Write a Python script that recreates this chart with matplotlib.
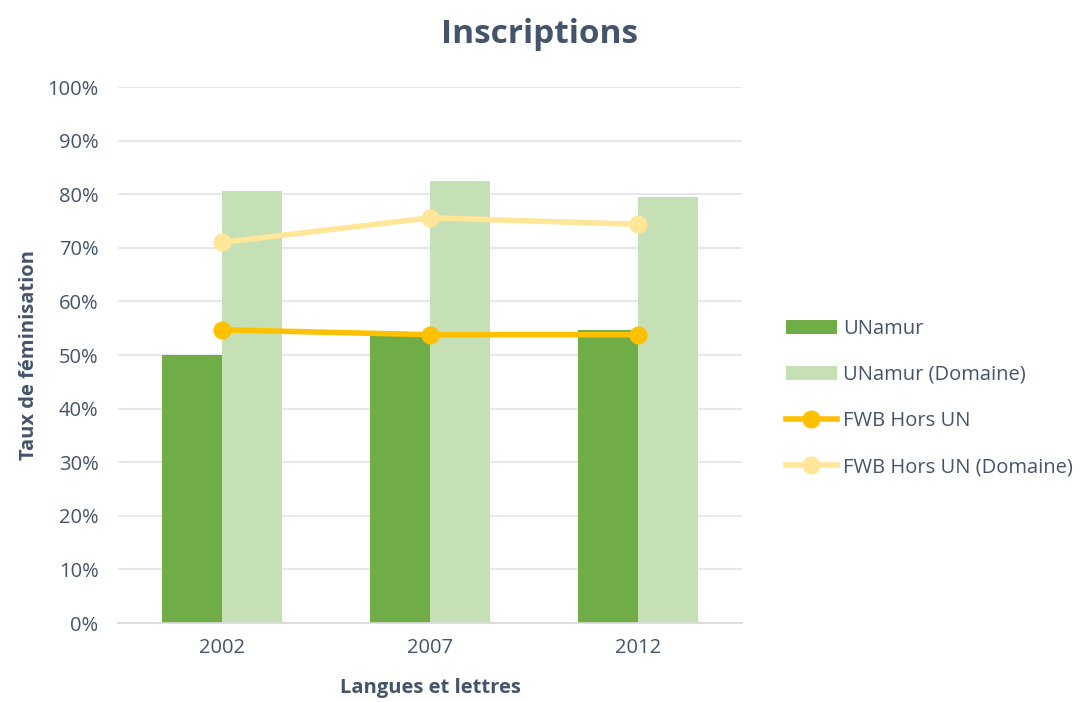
import numpy as np
import matplotlib
matplotlib.use("Agg")
import matplotlib.pyplot as plt
from matplotlib.ticker import PercentFormatter

plt.rcParams['font.family'] = ['Open Sans', 'DejaVu Sans']

# data
years = ['2002', '2007', '2012']
unamur = [50.1, 53.7, 54.6]
unamur_dom = [80.6, 82.5, 79.4]
fwb = [54.7, 53.8, 53.8]
fwb_dom = [71.0, 75.6, 74.4]

txt = '#44546A'
grid_c = '#E1E4EA'

fig = plt.figure(figsize=(10.86, 7.02), dpi=100)
ax = fig.add_axes([0.1087, 0.1125, 0.5746, 0.7635])

x = np.arange(len(years))
w = 0.29
b1 = ax.bar(x - w/2, unamur, w, color='#70AD47', label='UNamur', zorder=2)
b2 = ax.bar(x + w/2, unamur_dom, w, color='#C5E0B4', label='UNamur (Domaine)', zorder=2)
l1, = ax.plot(x, fwb, color='#FFC000', lw=4, marker='o', ms=12, label='FWB Hors UN', zorder=3)
l2, = ax.plot(x, fwb_dom, color='#FFE699', lw=4, marker='o', ms=12, label='FWB Hors UN (Domaine)', zorder=3)

ax.set_xlim(-0.5, 2.5)
ax.set_ylim(0, 100)
ax.set_yticks(np.arange(0, 101, 10))
ax.yaxis.set_major_formatter(PercentFormatter(decimals=0))
ax.set_xticks(x)
ax.set_xticklabels(years)
ax.grid(axis='y', color=grid_c, lw=1.2, zorder=0)
ax.set_axisbelow(True)
for s in ['top', 'right', 'left']:
    ax.spines[s].set_visible(False)
ax.spines['bottom'].set_color('#D9D9D9')
ax.spines['bottom'].set_linewidth(1.2)
ax.tick_params(length=0, labelsize=14.5, labelcolor=txt)
ax.tick_params(axis='y', pad=14)
ax.tick_params(axis='x', pad=11)

ax.set_ylabel('Taux de féminisation', fontsize=14.5, fontweight='bold', color=txt, labelpad=6)
ax.set_xlabel('Langues et lettres', fontsize=14.5, fontweight='bold', color=txt, labelpad=14)
fig.suptitle('Inscriptions', x=0.497, y=0.975, fontsize=24, fontweight='bold', color=txt)

leg = ax.legend([b1, b2, l1, l2], [h.get_label() for h in [b1, b2, l1, l2]],
                loc='center left', bbox_to_anchor=(1.058, 0.42), frameon=False,
                borderaxespad=0, fontsize=14.5, labelcolor=txt, handlelength=2.5,
                labelspacing=1.3, handletextpad=0.3)

fig.savefig('out.png', dpi=100)
